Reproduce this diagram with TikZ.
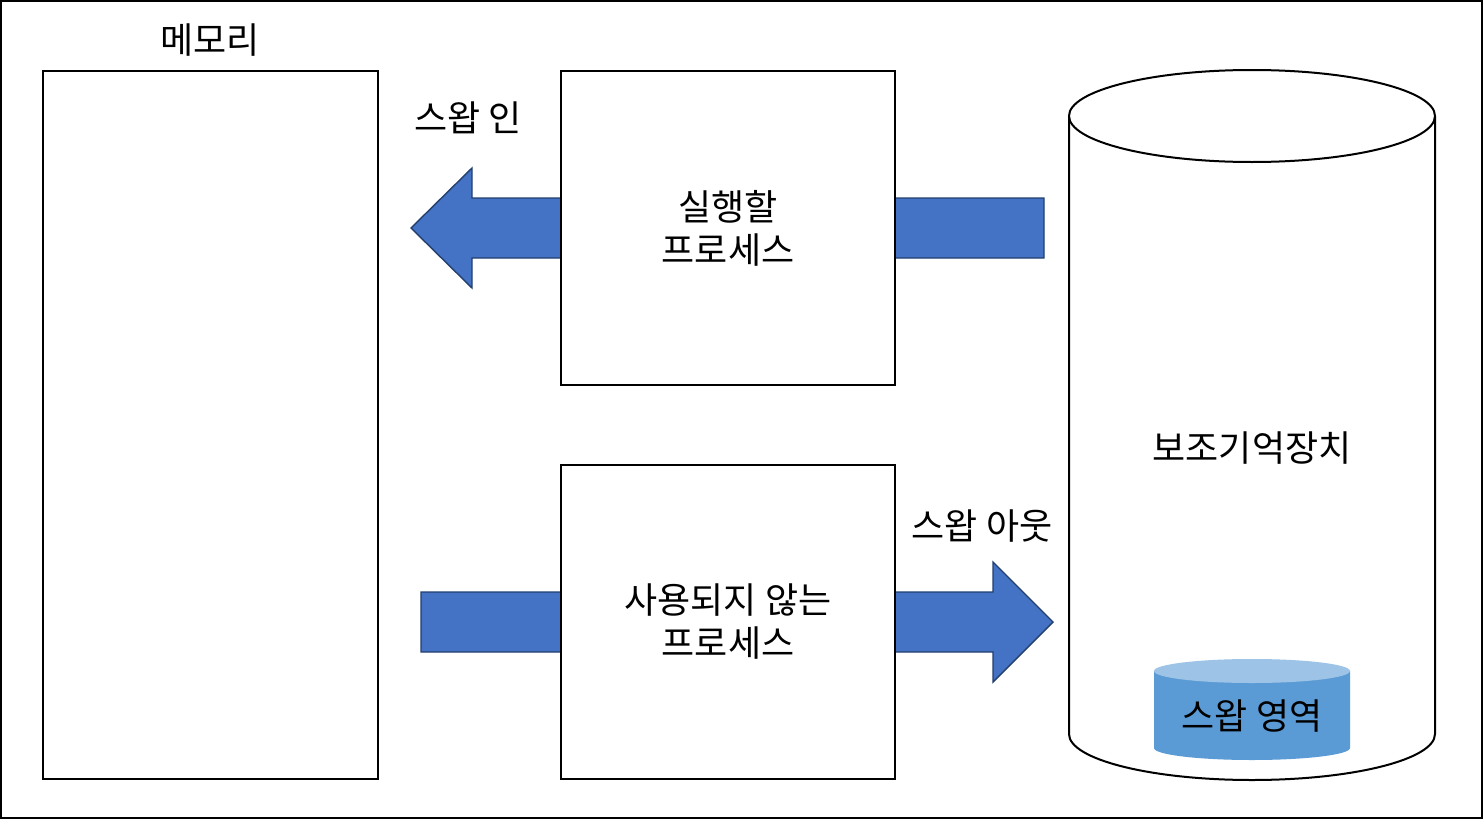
\documentclass[tikz,border=0pt]{standalone}
\usepackage{fontspec}
\setmainfont{Noto Sans CJK KR}
\usetikzlibrary{positioning}
\definecolor{ArrowBlue}{HTML}{4472C4}
\definecolor{ArrowEdge}{HTML}{223F6E}
\definecolor{SwapBlue}{HTML}{5B9BD5}
\definecolor{SwapTop}{HTML}{9DC3E6}
\begin{document}
\begin{tikzpicture}[x=0.5pt,y=-0.5pt,
 proc/.style={draw=black,line width=1pt,fill=white,minimum width=167pt,minimum height=157pt,align=center,inner sep=0pt,font=\fontsize{18}{21.5}\selectfont},
 mem/.style={proc,minimum width=167.5pt,minimum height=354pt},
 label/.style={inner sep=0pt,font=\fontsize{18}{21.5}\selectfont},
 blockarrow/.style={fill=ArrowBlue,draw=ArrowEdge,line width=0.7pt,line join=miter},
 disk/.style={draw=black,line width=1pt,fill=white}]
 \useasboundingbox (0,0) rectangle (1483,819);
 \draw[line width=1pt] (1,1) rectangle (1482,818);
 % swap in / swap out arrows, behind the process boxes
 \draw[blockarrow] (1044,198)--(472,198)--(472,168)--(411,228)--(472,288)--(472,258)--(1044,258)--cycle;
 \draw[blockarrow] (421,592)--(993,592)--(993,562)--(1053,622)--(993,682)--(993,652)--(421,652)--cycle;
 \node[mem](memory) at (210.5,425){};
 \node[label](memtitle) at (210,40){메모리};
 \node[proc](running) at (728,228){실행할\\프로세스};
 \node[proc](idle) at (728,622){사용되지 않는\\프로세스};
 \node[label](swapin) at (468,118){스왑 인};
 \node[label](swapout) at (982,526){스왑 아웃};
 % secondary storage
 \draw[disk] (1069,116)--(1069,734) arc[start angle=180,end angle=0,x radius=183,y radius=46]--(1435,116);
 \draw[disk] (1252,116) ellipse[x radius=183,y radius=46];
 \node[label](storage) at (1252,448){보조기억장치};
 \fill[SwapBlue] (1154,671)--(1154,748) arc[start angle=180,end angle=0,x radius=98,y radius=12]--(1350,671)--cycle;
 \fill[SwapTop] (1252,671) ellipse[x radius=98,y radius=12];
 \node[label](swaparea) at (1252,716){스왑 영역};
\end{tikzpicture}
\end{document}
